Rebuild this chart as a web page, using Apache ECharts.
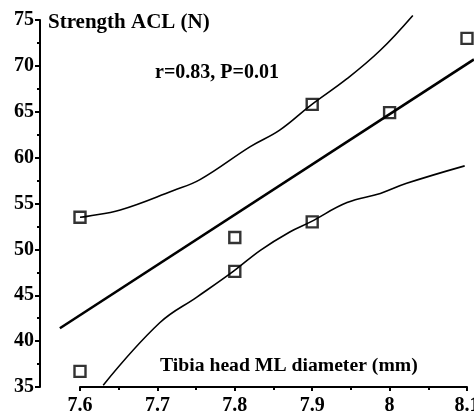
<!DOCTYPE html>
<html>
<head>
<meta charset="utf-8">
<script src="https://cdn.jsdelivr.net/npm/echarts@6/dist/echarts.min.js"></script>
<style>
html,body{margin:0;padding:0;background:#fff;}
#c{width:474px;height:411px;}
</style>
</head>
<body>
<div id="c"></div>
<script>
// Data
var xTicks = [7.6, 7.7, 7.8, 7.9, 8, 8.1];
var yTicks = [35, 40, 45, 50, 55, 60, 65, 70, 75];
var pointsX = [7.6, 7.6, 7.8, 7.8, 7.9, 7.9, 8.0, 8.1];
var pointsY = [53.5, 36.7, 51.3, 47.6, 65.8, 53.0, 64.9, 73.0];
var regX = [7.574, 8.109];
var regY = [41.4, 70.7];
var upperX = [7.6, 7.609, 7.652, 7.72, 7.755, 7.82, 7.858, 7.898, 7.945, 7.988, 8.030];
var upperY = [53.5, 53.6, 54.3, 56.4, 57.6, 61.2, 63.0, 65.7, 68.6, 71.7, 75.5];
var lowerX = [7.630, 7.703, 7.751, 7.798, 7.833, 7.871, 7.898, 7.945, 7.988, 8.022, 8.097];
var lowerY = [35.2, 42.0, 44.8, 47.6, 49.9, 51.9, 53.0, 55.1, 56.1, 57.2, 59.1];
var titleText = 'Strength ACL (N)';
var statText = 'r=0.83, P=0.01';
var xName = 'Tibia head ML diameter (mm)';

function zip(a, b) { return a.map(function (v, i) { return [v, b[i]]; }); }

var font = 'Liberation Serif';
// geometry of the plotting area (pixels)
var G = { left: 80, right: 7, top: 20, bottom: 24 };
var yAxisGap = 40;            // y axis sits 40px left of the x-axis start
var xMin = 7.6, xMax = 8.1;
var pxPerUnit = (474 - G.left - G.right) / (xMax - xMin);

var chart = echarts.init(document.getElementById('c'));
chart.setOption({
  animation: false,
  backgroundColor: '#fff',
  grid: [
    { left: G.left, right: G.right, top: G.top, bottom: G.bottom, outerBoundsMode: 'none', containLabel: false },
    { left: G.left - yAxisGap, right: 0, top: G.top, bottom: G.bottom, outerBoundsMode: 'none', containLabel: false }
  ],
  xAxis: [{
    gridIndex: 0, type: 'value', min: xMin, max: xMax, interval: 0.1,
    axisLine: { show: true, lineStyle: { color: '#000', width: 2 } },
    axisTick: { show: true, length: 4, lineStyle: { color: '#000', width: 2 } },
    minorTick: { show: true, splitNumber: 2, length: 3, lineStyle: { color: '#000', width: 2 } },
    splitLine: { show: false },
    axisLabel: {
      margin: 9, color: '#000', fontFamily: font, fontWeight: 'bold', fontSize: 20,
      formatter: function (v) { var r = xTicks.find(function (t) { return Math.abs(t - v) < 1e-6; }); return r === undefined ? '' : String(r); }
    }
  }, {
    gridIndex: 1, type: 'value', show: false,
    min: xMin - yAxisGap / pxPerUnit, max: xMax + G.right / pxPerUnit,
    splitLine: { show: false }
  }],
  yAxis: [{
    gridIndex: 0, type: 'value', min: 35, max: 75, interval: 5, offset: yAxisGap,
    axisLine: { show: true, lineStyle: { color: '#000', width: 2 } },
    axisTick: { show: true, length: 5, lineStyle: { color: '#000', width: 2 } },
    minorTick: { show: true, splitNumber: 2, length: 3, lineStyle: { color: '#000', width: 2 } },
    splitLine: { show: false },
    axisLabel: {
      margin: 6, color: '#000', fontFamily: font, fontWeight: 'bold', fontSize: 20,
      formatter: function (v) { return yTicks.indexOf(v) >= 0 ? String(v) : ''; }
    }
  }, {
    gridIndex: 1, type: 'value', show: false, min: 35, max: 75, splitLine: { show: false }
  }],
  graphic: [
    { type: 'text', left: 48, top: 12, style: { text: titleText, font: 'bold 21px "Liberation Serif"', fill: '#000' } },
    { type: 'text', left: 155, top: 63, style: { text: statText, font: 'bold 20px "Liberation Serif"', fill: '#000' } },
    { type: 'text', left: 160, top: 356, style: { text: xName, font: 'bold 19.7px "Liberation Serif"', fill: '#000' } }
  ],
  series: [
    { type: 'line', xAxisIndex: 1, yAxisIndex: 1, data: zip(regX, regY), showSymbol: false, clip: false,
      lineStyle: { color: '#000', width: 2.6 } },
    { type: 'line', data: zip(upperX, upperY), showSymbol: false, smooth: 0.4, clip: false,
      lineStyle: { color: '#000', width: 1.6 } },
    { type: 'line', data: zip(lowerX, lowerY), showSymbol: false, smooth: 0.4, clip: false,
      lineStyle: { color: '#000', width: 1.6 } },
    { type: 'scatter', data: zip(pointsX, pointsY), symbol: 'rect', symbolSize: 11, clip: false,
      itemStyle: { color: 'rgba(255,255,255,0)', borderColor: '#000', borderWidth: 2.4 } }
  ]
});
</script>
</body>
</html>
